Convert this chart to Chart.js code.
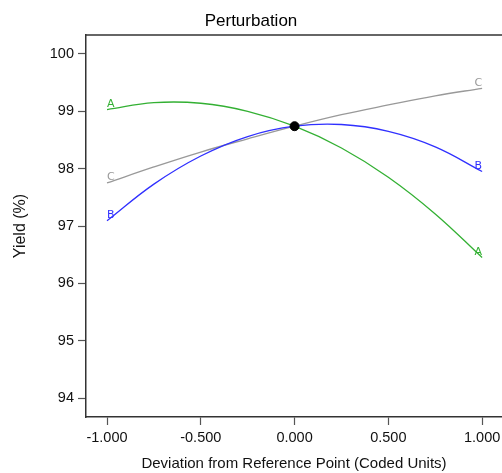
<!DOCTYPE html>
<html lang="en">
  <head>
    <meta charset="utf-8">
    <title>Perturbation</title>
    <script src="https://cdn.jsdelivr.net/npm/chart.js@4.4.0/dist/chart.umd.min.js"></script>
    <style>
        body { margin: 0; background: #fff; overflow: hidden; }
        div.wrap { width: 502px; height: 473px; }
    </style>
  </head>
  <body>
       <div class="wrap"><canvas id="chart-1" width="502" height="473"></canvas></div>

       <script>
           // values
           const deviation = [-1, -0.75, -0.5, -0.25, 0, 0.25, 0.5, 0.75, 1];
           const yieldA = [99.03, 99.15, 99.14, 99.00, 98.74, 98.36, 97.85, 97.21, 96.45];
           const yieldB = [97.09, 97.73, 98.22, 98.56, 98.74, 98.77, 98.65, 98.38, 97.95];
           const yieldC = [97.75, 98.03, 98.29, 98.52, 98.74, 98.94, 99.11, 99.27, 99.40];
           const refX = [0];
           const refY = [98.74];
           const curveNames = ['A', 'B', 'C'];
           const curveColors = ['#33b033', '#3030ff', '#999999'];
           const xTicks = [-1, -0.5, 0, 0.5, 1];
           const yTicks = [94, 95, 96, 97, 98, 99, 100];

           const font = '"Liberation Sans", Arial, sans-serif';

           function pts(ys) {
               return deviation.map(function(x, i){ return {x: x, y: ys[i]}; });
           }

           // top frame line + the letters at both ends of each curve
           const extras = {
               id: 'extras',
               afterDatasetsDraw: function(chart) {
                   const ctx = chart.ctx, a = chart.chartArea;
                   const xs = chart.scales.x, ys = chart.scales.y;
                   ctx.save();
                   ctx.strokeStyle = '#333';
                   ctx.lineWidth = 1.5;
                   ctx.beginPath();
                   ctx.moveTo(a.left, a.top);
                   ctx.lineTo(a.right, a.top);
                   ctx.stroke();

                   ctx.font = '11px "DejaVu Sans", sans-serif';
                   ctx.textBaseline = 'bottom';
                   [yieldA, yieldB, yieldC].forEach(function(s, i){
                       ctx.fillStyle = curveColors[i];
                       const n = s.length - 1;
                       ctx.textAlign = 'left';
                       ctx.fillText(curveNames[i], xs.getPixelForValue(deviation[0]), ys.getPixelForValue(s[0]));
                       ctx.textAlign = 'right';
                       ctx.fillText(curveNames[i], xs.getPixelForValue(deviation[n]), ys.getPixelForValue(s[n]));
                   });
                   ctx.restore();
               }
           };

           function line(ys, i) {
               return {
                   label: curveNames[i],
                   data: pts(ys),
                   borderColor: curveColors[i],
                   borderWidth: 1.3,
                   pointRadius: 0,
                   tension: 0.4,
                   fill: false,
                   showLine: true
               };
           }

           new Chart(document.getElementById('chart-1'), {
               type: 'scatter',
               data: {
                   datasets: [
                       {
                           label: 'ref',
                           data: refX.map(function(x, i){ return {x: x, y: refY[i]}; }),
                           backgroundColor: '#000',
                           borderColor: '#000',
                           pointRadius: 4.5,
                           showLine: false
                       },
                       line(yieldA, 0),
                       line(yieldB, 1),
                       line(yieldC, 2)
                   ]
               },
               plugins: [extras],
               options: {
                   responsive: false,
                   animation: false,
                   layout: { padding: 0, autoPadding: false },
                   plugins: {
                       legend: { display: false },
                       tooltip: { enabled: false },
                       title: {
                           display: true,
                           text: 'Perturbation',
                           color: '#000',
                           font: { family: font, size: 17, weight: 'normal', lineHeight: 1.2 },
                           padding: { top: 11, bottom: 3.6 }
                       }
                   },
                   scales: {
                       x: {
                           type: 'linear',
                           min: -1.112,
                           max: 1.106,
                           afterBuildTicks: function(s){ s.ticks = xTicks.map(function(v){ return {value: v}; }); },
                           afterFit: function(s){ s.height = 56; s.paddingLeft = 0; s.paddingRight = 0; },
                           grid: { drawOnChartArea: false, tickLength: 8, color: '#555', tickWidth: 1.2 },
                           border: { display: true, color: '#333', width: 1.5 },
                           ticks: {
                               color: '#111',
                               padding: 4,
                               maxRotation: 0,
                               font: { family: font, size: 14.5 },
                               callback: function(v){ return v.toFixed(3); }
                           },
                           title: {
                               display: true,
                               text: 'Deviation from Reference Point (Coded Units)',
                               color: '#111',
                               font: { family: font, size: 15 },
                               padding: { top: 4, bottom: 0 }
                           }
                       },
                       y: {
                           min: 93.67,
                           max: 100.33,
                           afterBuildTicks: function(s){ s.ticks = yTicks.map(function(v){ return {value: v}; }); },
                           afterFit: function(s){ s.width = 86; },
                           grid: { drawOnChartArea: false, tickLength: 8, color: '#555', tickWidth: 1.2 },
                           border: { display: true, color: '#333', width: 1.5 },
                           ticks: {
                               color: '#111',
                               padding: 4,
                               font: { family: font, size: 14.5 }
                           },
                           title: {
                               display: true,
                               text: 'Yield (%)',
                               color: '#111',
                               font: { family: font, size: 16 },
                               padding: { top: 11, bottom: 0 }
                           }
                       }
                   }
               }
           });
       </script>
  </body>
</html>
